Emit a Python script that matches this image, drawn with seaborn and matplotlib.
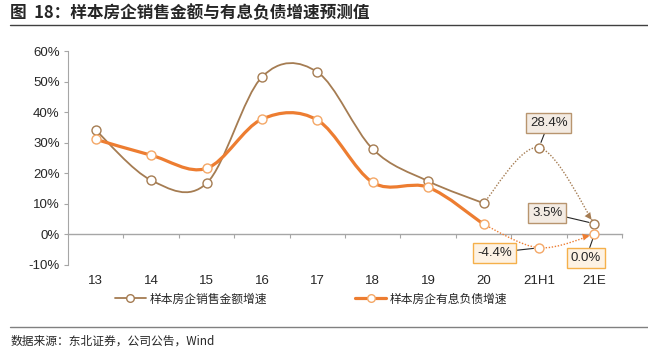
import numpy as np
import pandas as pd
import matplotlib
matplotlib.use("Agg")
import matplotlib.pyplot as plt
import seaborn as sns
from matplotlib.path import Path
from matplotlib.patches import PathPatch
from matplotlib.lines import Line2D

# ---------------------------------------------------------------
# DATA
# ---------------------------------------------------------------
CATEGORIES = ["13", "14", "15", "16", "17", "18", "19", "20", "21H1", "21E"]
SALES_GROWTH = [34.1, 17.7, 16.7, 51.5, 53.1, 27.9, 17.4, 10.2, 28.4, 3.5]
DEBT_GROWTH = [31.1, 25.9, 21.6, 37.7, 37.4, 17.0, 15.4, 3.3, -4.4, 0.0]
ACTUAL_END = 8          # index after "20": from here the lines are forecasts
SALES_NAME = "样本房企销售金额增速"
DEBT_NAME = "样本房企有息负债增速"
Y_TICKS = [-10, 0, 10, 20, 30, 40, 50, 60]

BROWN = "#a57c52"
ORANGE = "#ed7d31"
ORANGE_EDGE = "#f4a766"

CJK = ["Noto Sans CJK SC", "DejaVu Sans"]


def smooth_path(xs, ys):
    """Excel-like smoothed bezier through the given points."""
    pts = np.column_stack([xs, ys]).astype(float)
    n = len(pts)
    verts = [pts[0]]
    codes = [Path.MOVETO]
    for i in range(n - 1):
        p0 = pts[max(i - 1, 0)]
        p1 = pts[i]
        p2 = pts[i + 1]
        p3 = pts[min(i + 2, n - 1)]
        c1 = p1 + (p2 - p0) / 6.0
        c2 = p2 - (p3 - p1) / 6.0
        verts += [c1, c2, p2]
        codes += [Path.CURVE4] * 3
    return Path(verts, codes), verts[-2]


def draw_series(ax, values, color, lw, marker_edge):
    x = np.arange(len(values))
    vals = np.array(values, dtype=float)
    # solid actual part
    path, _ = smooth_path(x[:ACTUAL_END], vals[:ACTUAL_END])
    ax.add_patch(PathPatch(path, fill=False, edgecolor=color, lw=lw,
                           capstyle="round", zorder=2))
    # dotted forecast part
    path, ctrl = smooth_path(x[ACTUAL_END - 1:], vals[ACTUAL_END - 1:])
    ax.add_patch(PathPatch(path, fill=False, edgecolor=color, lw=1.0,
                           linestyle=(0, (1, 1.2)), zorder=2))
    ax.annotate("", xy=(x[-1], vals[-1]), xytext=ctrl,
                arrowprops=dict(arrowstyle="-|>,head_length=0.5,head_width=0.25",
                                color=color, lw=0, shrinkA=0, shrinkB=3.5),
                zorder=3)
    df = pd.DataFrame({"x": x, "v": vals})
    sns.scatterplot(data=df, x="x", y="v", ax=ax, color="white",
                    edgecolor=marker_edge, linewidth=1.0, s=42, zorder=4,
                    legend=False)


sns.set_style("white")
plt.rcParams["font.family"] = ["Liberation Sans", "Noto Sans CJK SC", "DejaVu Sans"]

fig = plt.figure(figsize=(6.48, 3.58), dpi=100)
ax = fig.add_axes([0.105, 0.26, 0.855, 0.5975])

draw_series(ax, SALES_GROWTH, BROWN, 1.3, BROWN)
draw_series(ax, DEBT_GROWTH, ORANGE, 2.3, ORANGE_EDGE)

ax.set_xlim(-0.5, len(CATEGORIES) - 0.5)
ax.set_ylim(-10, 60)
ax.set_yticks(Y_TICKS)
ax.set_yticklabels([f"{t}%" for t in Y_TICKS], fontsize=9.5)
ax.set_xticks(range(len(CATEGORIES)))
ax.set_xticklabels(CATEGORIES, fontsize=9.5)
ax.tick_params(axis="x", length=0, pad=7)
ax.tick_params(axis="y", length=3, color="#a6a6a6", width=0.8, pad=3, left=True)
ax.set_xlabel("")
ax.set_ylabel("")
for side in ["top", "right", "bottom"]:
    ax.spines[side].set_visible(False)
ax.spines["left"].set_color("#a6a6a6")
ax.spines["left"].set_linewidth(0.8)

# category axis drawn along the zero line
sec = ax.secondary_xaxis(10 / 70)
sec.set_xticks(np.arange(0.5, len(CATEGORIES), 1.0))
sec.set_xticklabels([])
sec.tick_params(length=3, color="#a6a6a6", width=0.8, direction="out")
sec.spines["bottom"].set_color("#a6a6a6")
sec.spines["bottom"].set_linewidth(1.0)

# value call-outs for the forecast points
brown_box = dict(boxstyle="square,pad=0.3", fc="#f3ebe3", ec="#b8956f", lw=1.0)
orange_box = dict(boxstyle="square,pad=0.3", fc="#fdf2e4", ec="#f5b04a", lw=1.0)
conn = dict(arrowstyle="-", color="#262626", lw=0.8, shrinkA=0, shrinkB=4)
callouts = [
    (8, SALES_GROWTH[8], (7, 18), brown_box),
    (9, SALES_GROWTH[9], (-34, 8), brown_box),
    (8, DEBT_GROWTH[8], (-32, -3.5), orange_box),
    (9, DEBT_GROWTH[9], (-6, -17), orange_box),
]
for xi, v, off, box in callouts:
    ax.annotate(f"{v:.1f}%", xy=(xi, v), xytext=off, textcoords="offset points",
                ha="center", va="center", fontsize=9.5, bbox=box,
                arrowprops=conn, zorder=5)

# legend
handles = [
    Line2D([], [], color=BROWN, lw=1.3, marker="o", markersize=5.5,
           markerfacecolor="white", markeredgecolor=BROWN),
    Line2D([], [], color=ORANGE, lw=2.3, marker="o", markersize=5.5,
           markerfacecolor="white", markeredgecolor=ORANGE_EDGE),
]
fig.legend(handles, [SALES_NAME, DEBT_NAME], loc="center", ncol=2,
           bbox_to_anchor=(0.48, 0.165), frameon=False, handlelength=2.6,
           handletextpad=0.3, columnspacing=7.5, prop={"family": CJK, "size": 8.5})

# title and source, with rules
fig.text(0.016, 0.963, "图  18：样本房企销售金额与有息负债增速预测值", fontsize=12,
         fontweight="bold", family=CJK, va="center", ha="left")
fig.add_artist(Line2D([0.016, 1.0], [0.93, 0.93], color="#404040", lw=1.0))
fig.add_artist(Line2D([0.016, 1.0], [0.087, 0.087], color="#808080", lw=1.0))
fig.text(0.016, 0.048, "数据来源：东北证券，公司公告，Wind", fontsize=8.5,
         family=CJK, va="center", ha="left")

fig.savefig("out.png", dpi=100)
plt.close(fig)
